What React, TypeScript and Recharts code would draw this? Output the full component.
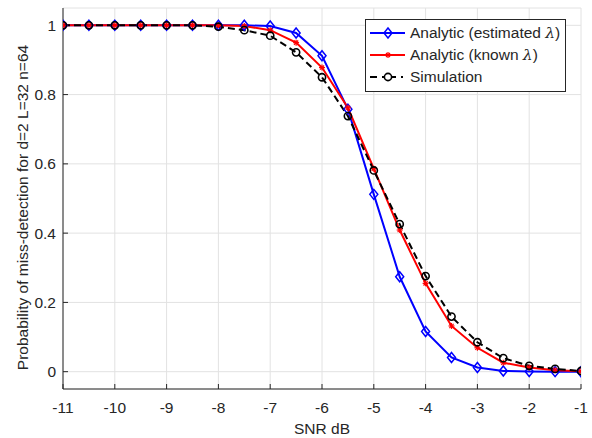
import React from 'react';
import { LineChart, Line, XAxis, YAxis, CartesianGrid, Legend, Label } from 'recharts';

const snrDb = [-11, -10.5, -10, -9.5, -9, -8.5, -8, -7.5, -7, -6.5, -6, -5.5, -5, -4.5, -4, -3.5, -3, -2.5, -2, -1.5, -1];
const analyticEstimated = [1, 1, 1, 1, 1, 1, 1, 1, 0.998, 0.978, 0.912, 0.758, 0.512, 0.274, 0.116, 0.041, 0.012, 0.002, 0.0005, 0.0001, 0];
const analyticKnown = [1, 1, 1, 1, 1, 1, 1, 0.998, 0.986, 0.95, 0.878, 0.762, 0.586, 0.409, 0.255, 0.132, 0.069, 0.026, 0.012, 0.004, 0.001];
const simulation = [1, 1, 1, 1, 1, 1, 0.996, 0.986, 0.97, 0.922, 0.85, 0.738, 0.581, 0.426, 0.276, 0.159, 0.085, 0.039, 0.017, 0.008, 0.002];

const xTicks = [-11, -10, -9, -8, -7, -6, -5, -4, -3, -2, -1];
const yTicks = [0, 0.2, 0.4, 0.6, 0.8, 1];
const xDomain = [-11, -1];
const yDomain = [-0.05, 1.05];

const xLabel = 'SNR dB';
const yLabel = 'Probability of miss-detection for d=2 L=32 n=64';
const seriesNames = ['Analytic (estimated ', 'Analytic (known ', 'Simulation'];

const data = snrDb.map((x, i) => ({
  x,
  est: analyticEstimated[i],
  known: analyticKnown[i],
  sim: simulation[i],
}));

const FONT = '"Liberation Sans", Arial, Helvetica, sans-serif';
const AX = '#262626';
const BLUE = '#0000ff';
const RED = '#ff0000';
const BLACK = '#000000';

const Diamond = (props: any) => {
  const { cx, cy, key } = props;
  if (cx == null || cy == null) return <g key={key} />;
  return (
    <polygon
      key={key}
      points={`${cx},${cy - 5} ${cx + 4},${cy} ${cx},${cy + 5} ${cx - 4},${cy}`}
      fill="none"
      stroke={BLUE}
      strokeWidth={1.5}
    />
  );
};

const Star = (props: any) => {
  const { cx, cy, key } = props;
  if (cx == null || cy == null) return <g key={key} />;
  const r = 3;
  const d = 2.1;
  return (
    <g key={key} stroke={RED} strokeWidth={1.2}>
      <line x1={cx - r} y1={cy} x2={cx + r} y2={cy} />
      <line x1={cx} y1={cy - r} x2={cx} y2={cy + r} />
      <line x1={cx - d} y1={cy - d} x2={cx + d} y2={cy + d} />
      <line x1={cx - d} y1={cy + d} x2={cx + d} y2={cy - d} />
    </g>
  );
};

const Circle = (props: any) => {
  const { cx, cy, key } = props;
  if (cx == null || cy == null) return <g key={key} />;
  return <circle key={key} cx={cx} cy={cy} r={3.6} fill="none" stroke={BLACK} strokeWidth={1.6} />;
};

const lambda = (
  <span style={{ fontFamily: '"DejaVu Serif", "Liberation Serif", serif', fontStyle: 'italic' }}>λ</span>
);

const LegendBox = () => {
  const rows = [
    { name: <>{seriesNames[0]}{lambda})</>, color: BLUE, kind: 'd' },
    { name: <>{seriesNames[1]}{lambda})</>, color: RED, kind: 's' },
    { name: <>{seriesNames[2]}</>, color: BLACK, kind: 'o' },
  ];
  return (
    <div
      style={{
        background: '#fff',
        border: `1px solid ${AX}`,
        padding: '2px 5px 3px 3px',
        fontFamily: FONT,
        fontSize: 15.5,
        color: AX,
        lineHeight: '22px',
      }}
    >
      {rows.map((r, i) => (
        <div key={i} style={{ display: 'flex', alignItems: 'center', height: 22, whiteSpace: 'nowrap' }}>
          <svg width={38} height={14} style={{ marginRight: 3 }}>
            {r.kind === 'o' ? (
              <>
                <line x1={1} y1={7} x2={36} y2={7} stroke={BLACK} strokeWidth={2} strokeDasharray="7 5 2 5" />
                <circle cx={19} cy={7} r={3.6} fill="#fff" stroke={BLACK} strokeWidth={1.6} />
              </>
            ) : (
              <>
                <line x1={1} y1={7} x2={36} y2={7} stroke={r.color} strokeWidth={2} />
                {r.kind === 'd' ? (
                  <polygon points="19,2 23,7 19,12 15,7" fill="none" stroke={BLUE} strokeWidth={1.5} />
                ) : (
                  <g stroke={RED} strokeWidth={1.2}>
                    <line x1={16} y1={7} x2={22} y2={7} />
                    <line x1={19} y1={4} x2={19} y2={10} />
                    <line x1={17} y1={5} x2={21} y2={9} />
                    <line x1={17} y1={9} x2={21} y2={5} />
                  </g>
                )}
              </>
            )}
          </svg>
          <span>{r.name}</span>
        </div>
      ))}
    </div>
  );
};

export default function App() {
  return (
    <div style={{ width: 592, height: 438, background: '#fff' }}>
      <style>{'body{margin:0;background:#fff}'}</style>
      <LineChart
        width={592}
        height={438}
        data={data}
        margin={{ top: 8, right: 11, left: 0, bottom: 0 }}
        style={{ fontFamily: FONT }}
      >
        <CartesianGrid xAxisId="x" yAxisId="y" stroke="#e2e2e2" strokeWidth={1} />
        <XAxis
          xAxisId="x"
          dataKey="x"
          type="number"
          domain={xDomain}
          ticks={xTicks}
          allowDataOverflow
          height={49}
          tickSize={-5}
          tickMargin={18}
          axisLine={{ stroke: AX, strokeWidth: 1 }}
          tickLine={{ stroke: AX }}
          tick={{ fill: AX, fontSize: 15.5, fontFamily: FONT }}
          interval={0}
        >
          <Label value={xLabel} position="insideBottom" offset={4} fill={AX} fontSize={15.5} fontFamily={FONT} />
        </XAxis>
        <XAxis
          xAxisId="top"
          orientation="top"
          type="number"
          domain={xDomain}
          ticks={xTicks}
          allowDataOverflow
          height={0}
          tickSize={-5}
          tick={false}
          axisLine={{ stroke: AX, strokeWidth: 1 }}
          tickLine={{ stroke: AX }}
          interval={0}
        />
        <YAxis
          yAxisId="y"
          type="number"
          domain={yDomain}
          ticks={yTicks}
          allowDataOverflow
          width={63}
          tickSize={-5}
          tickMargin={12}
          axisLine={{ stroke: AX, strokeWidth: 1 }}
          tickLine={{ stroke: AX }}
          tick={{ fill: AX, fontSize: 15.5, fontFamily: FONT }}
          interval={0}
        >
          <Label
            value={yLabel}
            position="insideLeft"
            angle={-90}
            offset={22}
            dy={9}
            fill={AX}
            fontSize={15.5}
            fontFamily={FONT}
            style={{ textAnchor: 'middle' }}
          />
        </YAxis>
        <YAxis
          yAxisId="right"
          orientation="right"
          type="number"
          domain={yDomain}
          ticks={yTicks}
          allowDataOverflow
          width={0}
          tickSize={-5}
          tick={false}
          axisLine={{ stroke: AX, strokeWidth: 1 }}
          tickLine={{ stroke: AX }}
          interval={0}
        />
        <Legend
          layout="horizontal"
          verticalAlign="middle"
          align="center"
          wrapperStyle={{ left: 365, top: 19, width: 'auto', height: 'auto' }}
          content={() => <LegendBox />}
        />
        <Line
          xAxisId="x"
          yAxisId="y"
          dataKey="est"
          stroke={BLUE}
          strokeWidth={2}
          dot={Diamond}
          isAnimationActive={false}
        />
        <Line
          xAxisId="x"
          yAxisId="y"
          dataKey="known"
          stroke={RED}
          strokeWidth={2}
          dot={Star}
          isAnimationActive={false}
        />
        <Line
          xAxisId="x"
          yAxisId="y"
          dataKey="sim"
          stroke={BLACK}
          strokeWidth={2}
          strokeDasharray="7 4"
          dot={Circle}
          isAnimationActive={false}
        />
      </LineChart>
    </div>
  );
}
